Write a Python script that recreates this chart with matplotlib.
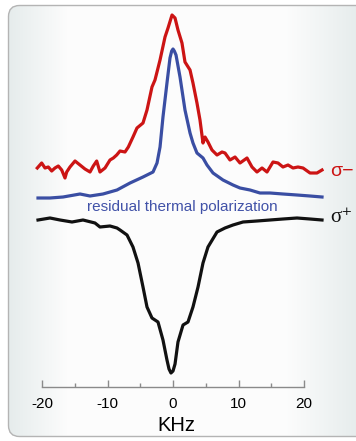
import numpy as np
import matplotlib
matplotlib.use("Agg")
import matplotlib.pyplot as plt
from matplotlib.patches import FancyBboxPatch

plt.rcParams['font.family'] = ['Liberation Sans', 'DejaVu Sans']

# sigma- (red): frequency in kHz, signal in a.u.
red_khz = [-20.72, -20.05, -19.54, -19.04, -18.52, -18.02, -17.51, -16.99, -16.49, -16.23,
           -15.73, -14.96, -14.2, -13.44, -12.67, -12.17, -11.65, -11.15, -10.38, -9.62,
           -9.11, -8.6, -8.09, -7.33, -6.82, -6.11, -5.5, -4.58, -3.97, -3.21,
           -2.75, -1.98, -1.22, -0.76, -0.15, 0.31, 0.76, 1.37, 1.83, 2.6,
           3.05, 3.66, 4.12, 4.58, 4.89, 5.34, 5.95, 6.72, 7.48, 7.94,
           8.7, 9.47, 10.23, 11.3, 12.06, 12.82, 13.59, 14.35, 15.27, 16.03,
           16.79, 17.56, 18.32, 19.08, 19.85, 20.92, 21.98, 22.75]
red_sig = [273, 278, 273, 274, 270, 273, 275, 271, 263, 269,
           274, 280, 276, 272, 269, 275, 280, 269, 273, 281,
           283, 286, 290, 289, 294, 304, 313, 318, 331, 354,
           361, 381, 404, 413, 426, 423, 411, 398, 379, 371,
           358, 338, 321, 298, 304, 299, 291, 286, 289, 288,
           281, 284, 278, 283, 274, 269, 273, 269, 279, 278,
           274, 276, 273, 274, 273, 268, 268, 271]

# residual thermal polarization (blue)
blue_khz = [-20.61, -18.78, -16.79, -14.2, -12.67, -10.69, -8.55, -6.56, -4.58, -3.05,
            -2.44, -1.98, -1.53, -0.92, -0.46, -0.2, 0.0, 0.2, 0.46, 1.07,
            1.83, 2.6, 3.05, 3.66, 4.58, 5.19, 6.11, 7.63, 9.16, 10.23,
            11.76, 13.28, 14.81, 16.79, 18.93, 20.92, 22.75]
blue_sig = [243, 243, 244, 247, 245, 247, 251, 258, 264, 269,
            278, 294, 324, 358, 383, 390, 392, 390, 386, 364,
            331, 308, 298, 288, 283, 276, 268, 261, 256, 253,
            251, 248, 248, 247, 246, 245, 244]

# sigma+ (black)
black_khz = [-20.61, -18.78, -17.25, -15.42, -13.74, -11.91, -11.15, -9.62, -8.55, -8.09,
             -7.02, -6.11, -5.34, -4.58, -3.97, -3.21, -2.29, -1.53, -0.92, -0.61,
             -0.31, 0.0, 0.31, 0.76, 1.53, 2.29, 3.05, 3.82, 4.58, 5.34,
             6.72, 7.94, 9.16, 10.69, 12.82, 14.81, 16.79, 18.93, 20.92, 22.75]
black_sig = [221, 223, 221, 219, 221, 218, 214, 215, 213, 211,
             206, 194, 178, 154, 134, 123, 119, 101, 81, 72,
             68, 70, 77, 99, 116, 119, 134, 154, 178, 194,
             209, 213, 216, 219, 220, 221, 222, 223, 222, 221]

major_ticks = [-20, -10, 0, 10, 20]
minor_ticks = [-15, -5, 5, 15]

W, H = 356, 441
fig = plt.figure(figsize=(W / 100, H / 100), dpi=100)
fig.patch.set_facecolor('white')

# rounded panel with soft grey edges
bg = fig.add_axes([0, 0, 1, 1], zorder=0)
bg.set_xlim(0, W)
bg.set_ylim(H, 0)
bg.axis('off')
edge = np.array([0.90, 0.925, 0.925])
white = np.array([0.99, 0.99, 0.99])
px = np.arange(W)
t = np.clip(1 - (px - 8) / 60, 0, 1) + np.clip((px - 285) / 75, 0, 1)
t = np.clip(t, 0, 1)[None, :, None]
grad = white + (edge - white) * t
grad = np.repeat(grad, 2, axis=0)
panel = FancyBboxPatch((8.5, 5.5), 360, 431, boxstyle="round,pad=0,rounding_size=11",
                       facecolor='none', edgecolor='#b4b4b4', linewidth=1.0)
bg.add_patch(panel)
im = bg.imshow(grad, extent=(0, W, H, 0), aspect='auto', zorder=0)
im.set_clip_path(panel)

ax = fig.add_axes([28.9 / W, (H - 387) / H, 294.75 / W, 382 / H], zorder=1)
ax.patch.set_alpha(0)
ax.plot(red_khz, red_sig, color='#cc1414', lw=2.3, solid_joinstyle='round')
ax.plot(blue_khz, blue_sig, color='#3a4ea3', lw=2.3, solid_joinstyle='round')
ax.plot(black_khz, black_sig, color='#111111', lw=2.3, solid_joinstyle='round')

ax.set_xlim(-22, 23)
ax.set_ylim(54, 436)
for s in ['top', 'right', 'left']:
    ax.spines[s].set_visible(False)
ax.spines['bottom'].set_bounds(-20, 20)
ax.spines['bottom'].set_color('#8a8a8a')
ax.spines['bottom'].set_linewidth(1.0)
ax.set_yticks([])
ax.set_xticks(major_ticks)
ax.set_xticklabels([str(v) for v in major_ticks])
ax.set_xticks(minor_ticks, minor=True)
ax.tick_params(axis='x', which='major', direction='in', length=5, width=1,
               color='#8a8a8a', pad=7, labelsize=11)
ax.tick_params(axis='x', which='minor', direction='in', length=3, width=1,
               color='#8a8a8a')
ax.set_xlabel('KHz', fontsize=14.5, labelpad=4)

ax.text(1.45, 234, 'residual thermal polarization', color='#4152a8',
        fontsize=11, ha='center', va='center')
ax.text(24.0, 270, 'σ−', color='#cc1414', fontsize=14, ha='left', va='center',
        clip_on=False)
ax.text(24.0, 224, 'σ⁺', color='#111111', fontsize=15, ha='left', va='center',
        family=['Liberation Serif', 'DejaVu Serif'], clip_on=False)

fig.savefig('out.png', dpi=100)
